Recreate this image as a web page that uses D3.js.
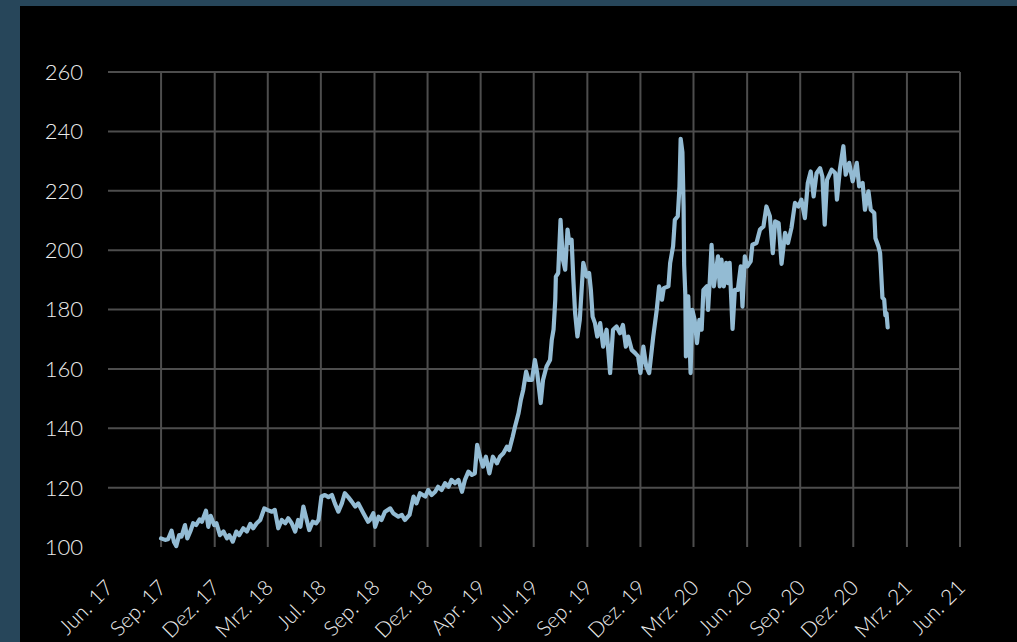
<!DOCTYPE html>
<html>
<head>
<meta charset="utf-8">
<script src="https://cdn.jsdelivr.net/npm/d3@7"></script>
<style>
  html, body { margin: 0; padding: 0; background: #27465a; }
  svg { display: block; }
</style>
</head>
<body>
<svg id="chart" width="1017" height="642"></svg>
<script>
// Index series (observation dates and levels)
const dates = [
  "2017-08-31","2017-09-07","2017-09-12","2017-09-18","2017-09-22","2017-09-26","2017-10-01","2017-10-05",
  "2017-10-11","2017-10-15","2017-10-21","2017-10-25","2017-10-30","2017-11-05","2017-11-09","2017-11-16",
  "2017-11-20","2017-11-24","2017-11-30","2017-12-04","2017-12-10","2017-12-16","2017-12-22","2017-12-26",
  "2018-01-01","2018-01-07","2018-01-12","2018-01-19","2018-01-25","2018-01-31","2018-02-05","2018-02-11",
  "2018-02-17","2018-02-24","2018-03-01","2018-03-09","2018-03-14","2018-03-20","2018-03-26","2018-04-01",
  "2018-04-06","2018-04-12","2018-04-18","2018-04-23","2018-04-27","2018-05-02","2018-05-07","2018-05-12",
  "2018-05-18","2018-05-24","2018-05-28","2018-06-02","2018-06-08","2018-06-14","2018-06-20","2018-06-25",
  "2018-07-01","2018-07-07","2018-07-12","2018-07-18","2018-07-24","2018-07-30","2018-08-04","2018-08-13",
  "2018-08-21","2018-08-24","2018-08-30","2018-09-02","2018-09-08","2018-09-13","2018-09-19","2018-09-28",
  "2018-10-03","2018-10-12","2018-10-18","2018-10-23","2018-10-31","2018-11-07","2018-11-12","2018-11-18",
  "2018-11-27","2018-12-02","2018-12-08","2018-12-14","2018-12-19","2018-12-25","2018-12-31","2019-01-06",
  "2019-01-11","2019-01-17","2019-01-23","2019-01-29","2019-02-03","2019-02-09","2019-02-15","2019-02-20",
  "2019-02-24","2019-03-01","2019-03-06","2019-03-11","2019-03-17","2019-03-23","2019-03-30","2019-04-04",
  "2019-04-10","2019-04-16","2019-04-20","2019-04-26","2019-04-30","2019-05-06","2019-05-10","2019-05-14",
  "2019-05-19","2019-05-23","2019-05-29","2019-06-03","2019-06-07","2019-06-13","2019-06-17","2019-06-23",
  "2019-06-29","2019-07-02","2019-07-05","2019-07-08","2019-07-09","2019-07-13","2019-07-17","2019-07-21",
  "2019-07-25","2019-07-29","2019-08-01","2019-08-05","2019-08-08","2019-08-11","2019-08-15","2019-08-19",
  "2019-08-25","2019-08-31","2019-09-04","2019-09-07","2019-09-10","2019-09-14","2019-09-18","2019-09-23",
  "2019-09-28","2019-10-04","2019-10-10","2019-10-15","2019-10-21","2019-10-27","2019-11-01","2019-11-06",
  "2019-11-10","2019-11-16","2019-11-22","2019-11-27","2019-12-01","2019-12-06","2019-12-11","2019-12-16",
  "2019-12-23","2019-12-29","2020-01-02","2020-01-07","2020-01-10","2020-01-18","2020-01-21","2020-01-26",
  "2020-01-29","2020-02-03","2020-02-06","2020-02-08","2020-02-11","2020-02-13","2020-02-14","2020-02-16",
  "2020-02-17","2020-02-21","2020-02-25","2020-02-28","2020-03-03","2020-03-07","2020-03-11","2020-03-15",
  "2020-03-18","2020-03-24","2020-03-26","2020-03-29","2020-04-01","2020-04-05","2020-04-08","2020-04-12",
  "2020-04-15","2020-04-18","2020-04-22","2020-04-26","2020-04-29","2020-05-02","2020-05-07","2020-05-11",
  "2020-05-16","2020-05-21","2020-05-24","2020-05-28","2020-06-01","2020-06-07","2020-06-10","2020-06-17",
  "2020-06-23","2020-06-29","2020-07-04","2020-07-10","2020-07-15","2020-07-19","2020-07-25","2020-07-30",
  "2020-08-05","2020-08-10","2020-08-16","2020-08-22","2020-08-28","2020-09-02","2020-09-08","2020-09-13",
  "2020-09-18","2020-09-23","2020-09-28","2020-10-04","2020-10-08","2020-10-12","2020-10-16","2020-10-24",
  "2020-10-30","2020-11-02","2020-11-07","2020-11-13","2020-11-17","2020-11-23","2020-11-29","2020-12-06",
  "2020-12-10","2020-12-16","2020-12-20","2020-12-26","2020-12-30","2021-01-05","2021-01-07","2021-01-12",
  "2021-01-15","2021-01-19","2021-01-22","2021-01-24","2021-01-26","2021-01-28"
];

const values = [
  102.9,102.4,102.6,105.5,101.8,100.3,104.0,103.5,
  107.4,102.9,105.7,108.0,107.4,109.3,108.5,112.2,
  106.8,110.5,107.4,108.0,104.0,105.2,102.9,104.0,
  101.8,105.2,104.0,106.3,105.2,107.8,106.3,108.0,
  109.1,113.0,112.5,111.9,112.5,106.3,109.1,108.0,
  109.7,108.0,105.2,109.1,106.8,113.6,109.7,105.7,
  108.5,108.0,109.1,117.0,117.5,116.8,117.5,114.7,
  111.9,114.7,118.1,116.8,115.3,113.6,114.7,111.4,
  108.5,109.1,111.4,106.8,110.2,109.1,111.9,113.0,
  111.4,110.2,110.8,109.1,110.8,117.0,114.7,118.1,
  117.0,119.2,117.5,118.6,120.3,119.2,121.5,120.3,
  122.6,121.5,122.6,118.6,122.6,125.4,124.3,124.8,
  134.4,130.4,127.1,130.4,124.8,130.4,128.2,130.4,
  131.6,133.8,132.7,137.2,140.6,145.1,149.6,152.9,
  159.1,156.3,156.3,163.0,158.6,148.5,156.3,160.8,
  163.0,169.8,173.2,183.3,191.1,192.3,210.2,196.8,
  193.4,206.9,202.4,203.5,190.0,178.8,170.9,176.5,
  195.7,191.1,192.3,186.6,177.6,175.4,170.9,175.4,
  167.5,173.2,158.6,173.2,174.3,172.0,174.8,167.5,
  170.9,166.4,165.3,164.2,158.6,167.5,160.8,158.6,
  170.9,179.9,187.8,183.3,187.2,187.8,195.7,201.3,
  210.2,211.4,221.5,237.5,233.0,215.0,195.0,185.0,
  164.2,184.4,158.6,179.9,176.5,168.7,176.5,173.2,
  186.6,187.8,179.9,190.0,201.8,187.8,192.3,197.9,
  187.8,196.8,187.8,195.7,188.9,195.7,173.5,186.6,
  186.6,194.5,181.0,197.9,194.5,196.2,201.8,202.4,
  206.9,208.0,214.7,211.4,199.0,209.7,209.1,195.4,
  205.8,202.4,207.5,215.9,214.7,217.0,210.8,222.6,
  226.5,218.1,225.9,227.6,224.8,208.6,223.7,227.1,
  226.0,217.0,227.1,235.0,225.4,229.4,223.2,229.4,
  221.5,222.6,213.6,219.8,213.6,212.5,204.0,201.3,
  199.0,184.0,183.3,178.0,178.8,174.0
];

// Date axis: tick dates and their labels
const tickDates = [
  "2017-06-01","2017-08-31","2017-12-01","2018-03-02","2018-06-01","2018-09-01","2018-12-01","2019-03-02",
  "2019-06-01","2019-09-01","2019-12-01","2020-03-01","2020-06-01","2020-08-31","2020-11-30","2021-03-02",
  "2021-06-01"
];
const tickLabels = [
  "Jun. 17","Sep. 17","Dez. 17","Mrz. 18","Jul. 18","Sep. 18","Dez. 18","Apr. 19",
  "Jul. 19","Sep. 19","Dez. 19","Mrz. 20","Jun. 20","Sep. 20","Dez. 20","Mrz. 21",
  "Jun. 21"
];

// Value axis ticks
const yTicks = [100, 120, 140, 160, 180, 200, 220, 240, 260];

const parse = d3.utcParse("%Y-%m-%d");
const series = dates.map((d, i) => ({ date: parse(d), value: values[i] }));
const ticks = tickDates.map(parse);

const W = 1017, H = 642;
const plot = { left: 108, right: 960, top: 72, bottom: 547 };
const fontFamily = "Lato, 'Open Sans', sans-serif";
const labelColor = "#ececec";

const svg = d3.select("#chart");

// dark panel
svg.append("rect")
  .attr("x", 20).attr("y", 6)
  .attr("width", W - 20).attr("height", H - 6)
  .attr("fill", "#000000");

const x = d3.scaleUtc()
  .domain([ticks[0], ticks[ticks.length - 1]])
  .range([plot.left, plot.right]);

const y = d3.scaleLinear()
  .domain([yTicks[0], yTicks[yTicks.length - 1]])
  .range([plot.bottom, plot.top]);

const gridColor = "#4d4d4d";

// horizontal gridlines
svg.append("g")
  .selectAll("line")
  .data(yTicks.slice(1))
  .join("line")
  .attr("x1", plot.left).attr("x2", plot.right)
  .attr("y1", d => y(d)).attr("y2", d => y(d))
  .attr("stroke", gridColor).attr("stroke-width", 2);

// vertical gridlines
svg.append("g")
  .selectAll("line")
  .data(ticks.slice(1))
  .join("line")
  .attr("x1", d => x(d)).attr("x2", d => x(d))
  .attr("y1", plot.top).attr("y2", plot.bottom)
  .attr("stroke", gridColor).attr("stroke-width", 2);

// y axis labels
const yAxis = svg.append("g")
  .attr("transform", `translate(${plot.left - 25},0)`)
  .call(d3.axisLeft(y).tickValues(yTicks).tickSize(0).tickPadding(0));
yAxis.select(".domain").remove();
yAxis.selectAll("text")
  .attr("fill", labelColor)
  .attr("dy", "0.34em")
  .style("font-family", fontFamily)
  .style("font-weight", 300)
  .style("font-size", "22px");

// x axis labels, rotated
const xAxis = svg.append("g")
  .attr("transform", `translate(0,${plot.bottom})`)
  .call(d3.axisBottom(x).tickValues(ticks).tickSize(0)
    .tickFormat((d, i) => tickLabels[i]));
xAxis.select(".domain").remove();
xAxis.selectAll("text")
  .attr("fill", labelColor)
  .style("font-family", fontFamily)
  .style("font-weight", 300)
  .style("font-size", "21px")
  .attr("text-anchor", "end")
  .attr("dy", 0)
  .attr("y", 0)
  .attr("transform", "translate(6,42) rotate(-45)");

// the index line
const line = d3.line()
  .x(d => x(d.date))
  .y(d => y(d.value));

svg.append("path")
  .datum(series)
  .attr("d", line)
  .attr("fill", "none")
  .attr("stroke", "#93bbd3")
  .attr("stroke-width", 4.2)
  .attr("stroke-linejoin", "round")
  .attr("stroke-linecap", "round");
</script>
</body>
</html>
